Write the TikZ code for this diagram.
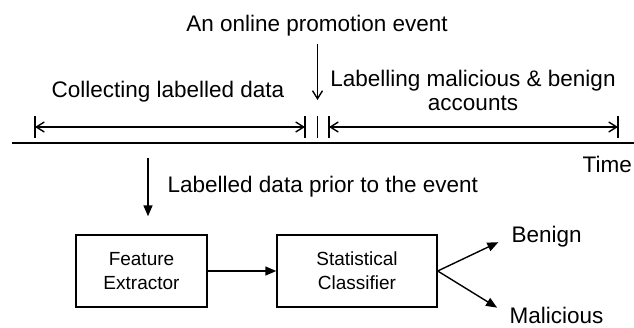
\documentclass[tikz,border=0pt]{standalone}
\usepackage{fontspec}
\setmainfont{Liberation Sans}
\usetikzlibrary{arrows.meta}
\usetikzlibrary{positioning}

\begin{document}
\begin{tikzpicture}
        [x=1pt, y=-1pt, line width=1.4pt,
         font=\fontsize{22.5}{24}\selectfont,
         >={Triangle[length=11pt,width=9pt]},
         barb/.style={>={Straight Barb[length=8pt,width=10pt]}},
         stage/.style={draw, align=center, minimum height=72pt,
                       font=\fontsize{19}{24}\selectfont},
         label/.style={anchor=base west, inner sep=0pt}]
        \useasboundingbox (0,0) rectangle (634,327);

        % time line
        \node [anchor=base] (event) at (317,31) {An online promotion event};
        \node [anchor=base] (collect) at (168,97) {Collecting labelled data};
        \node [align=center] (labelling) at (473,90) {Labelling malicious \& benign\\accounts};
        \node [label] (time) at (582,172) {Time};

        \coordinate (collectL) at (35,127);
        \coordinate (collectR) at (305,127);
        \coordinate (eventbar) at (317.5,127);
        \coordinate (labelL) at (329,127);
        \coordinate (labelR) at (618,127);

        \draw [barb, ->, shorten <=4pt] (event.south -| eventbar) -- ([yshift=27pt]eventbar);
        \draw [barb, <->] (collectL) -- (collectR);
        \draw [barb, <->] (labelL) -- (labelR);
        \foreach \c in {collectL, collectR, eventbar, labelL, labelR}
            \draw ([yshift=-11pt]\c) -- ([yshift=11pt]\c);
        \draw (12,143) -- (634,143);

        % classification
        \node [label] (prior) at (167,192) {Labelled data prior to the event};
        \node [stage, minimum width=131pt] (feature) at (141.5,271) {Feature\\Extractor};
        \node [stage, minimum width=160pt] (classifier) at (357,271) {Statistical\\Classifier};
        \node [label] (benign) at (511,242) {Benign};
        \node [label] (malicious) at (509,323) {Malicious};

        \coordinate (priortop) at (148,158);
        \draw [->, shorten >=18pt] (priortop) -- (priortop |- feature.north);
        \draw [->] (feature) -- (classifier);
        \draw [->, shorten >=14pt] (classifier.east) -- (benign.west);
        \draw [->, shorten >=14pt] (classifier.east) -- (malicious.west);
    \end{tikzpicture}
\end{document}
